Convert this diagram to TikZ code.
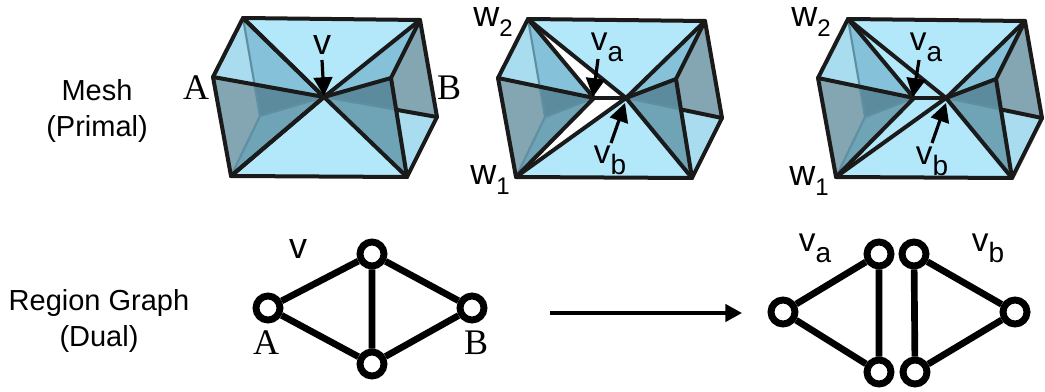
\documentclass[tikz,border=0pt]{standalone}
\usepackage{fontspec}
\setmainfont{Liberation Sans}
\newfontfamily\serifA{Liberation Serif}
\usetikzlibrary{arrows.meta}
\definecolor{faceTop}{HTML}{B3E8FB}
\definecolor{faceLight}{HTML}{A9DCEE}
\definecolor{faceMid}{HTML}{85C1D8}
\definecolor{faceGray}{HTML}{84A6B2}
\definecolor{faceDark}{HTML}{5D8B9E}
\definecolor{faceDeep}{HTML}{6FA3B6}
\definecolor{edgeBlack}{HTML}{1A1A1A}
\definecolor{backLine}{HTML}{5F8FA2}
\tikzset{
  meshedge/.style={draw=edgeBlack,line width=3pt,line join=round,line cap=round},
  backedge/.style={draw=backLine,line width=1.6pt},
  callout/.style={draw=black,line width=2.4pt,-{Triangle[length=14pt,width=14pt]}},
  flow/.style={draw=black,line width=2.6pt,-{Triangle[length=12.5pt,width=13pt]}},
  gnode/.style={circle,draw=black,line width=5.2pt,fill=white,minimum size=18pt,inner sep=0pt},
  gedge/.style={draw=black,line width=5pt},
  caption/.style={align=center,font=\fontsize{21.75}{27.5}\selectfont,inner sep=0pt},
  sym/.style={inner sep=0pt},
  serifsym/.style={inner sep=0pt,font=\serifA\fontsize{27}{27}\selectfont},
}
\newcommand{\subsym}[2]{\fontsize{25}{25}\selectfont #1\raisebox{-.32em}{\fontsize{21}{21}\selectfont #2}}
\newcommand{\wsym}[1]{\fontsize{27}{27}\selectfont w\raisebox{-.3em}{\fontsize{18}{18}\selectfont #1}}
% dx, dy, shift of va, shift of vb, colour of the gap
\newcommand{\meshpart}[5]{%
\begin{scope}[shift={(#1,#2)}]
  \coordinate (TL) at (243,18); \coordinate (TR) at (420,20);
  \coordinate (A) at (213,77);  \coordinate (R) at (437,117);
  \coordinate (BL) at (231,176);\coordinate (BR) at (407,177);
  \coordinate (P) at (260,116); \coordinate (C) at (391,78);
  \coordinate (va) at (324+#3,97); \coordinate (vb) at (324+#4,97);
  \coordinate (Q) at (intersection cs: first line={(TL)--(P)}, second line={(A)--(va)});
  \coordinate (D) at (intersection cs: first line={(C)--(BR)}, second line={(vb)--(R)});
  \fill[faceTop] (TL)--(TR)--(vb)--(BR)--(BL)--(va)--cycle;
  \fill[#5] (TL)--(va)--(BL)--(vb)--cycle;
  \fill[faceLight] (TL)--(A)--(Q)--cycle;
  \fill[faceMid] (TL)--(Q)--(va)--cycle;
  \fill[faceGray] (A)--(Q)--(P)--(BL)--cycle;
  \fill[faceDark] (Q)--(va)--(P)--cycle;
  \fill[faceDeep] (P)--(va)--(BL)--cycle;
  \fill[faceMid] (TR)--(C)--(vb)--cycle;
  \fill[faceDark] (C)--(vb)--(D)--cycle;
  \fill[faceDeep] (vb)--(D)--(BR)--cycle;
  \fill[faceGray] (TR)--(R)--(D)--(C)--cycle;
  \fill[faceLight] (R)--(BR)--(D)--cycle;
  \draw[backedge] (TL)--(P)--(BL) (P)--(va) (vb)--(D);
  \draw[meshedge] (TL)--(TR)--(R)--(BR)--(BL)--(A)--cycle;
  \draw[meshedge] (A)--(va)--(TL) (va)--(BL);
  \draw[meshedge] (TL)--(vb)--(TR) (BL)--(vb)--(BR);
  \draw[meshedge] (TR)--(C)--(vb) (C)--(BR) (D)--(R);
  \draw[meshedge] (va)--(vb);
\end{scope}}
\begin{document}
\begin{tikzpicture}[x=.75pt,y=-.75pt]
\useasboundingbox (0,0) rectangle (1045,392);
\meshpart{0}{0}{0}{0}{faceTop}
\meshpart{285}{1}{-15}{17}{white}
\meshpart{605}{1}{-15}{17}{faceTop}

% captions
\node[caption] (cap1) at (97,111) {Mesh\\(Primal)};
\node[caption] (cap2) at (99,321) {Region Graph\\(Dual)};

% labels on the first mesh
\node[sym,font=\fontsize{27}{27}\selectfont] (v1) at (322,45) {v};
\node[serifsym] (A1) at (196,88) {A};
\node[serifsym] (B1) at (449,88) {B};
\coordinate (v1s) at (322,60); \coordinate (v1e) at (324,96);
\draw[callout] (v1s)--(v1e);

% labels on the second mesh
\node[sym] (w22) at (493,22) {\wsym{2}};
\node[sym] (w21) at (490,180) {\wsym{1}};
\node[sym] (va2) at (607,47) {\subsym{v}{a}};
\node[sym] (vb2) at (610,160) {\subsym{v}{b}};
\coordinate (a2s) at (598,59); \coordinate (a2e) at (593,97);
\coordinate (b2s) at (611,143); \coordinate (b2e) at (625,103);
\draw[callout] (a2s)--(a2e);
\draw[callout] (b2s)--(b2e);

% labels on the third mesh
\node[sym] (w32) at (811,22) {\wsym{2}};
\node[sym] (w31) at (809,181) {\wsym{1}};
\node[sym] (va3) at (926,47) {\subsym{v}{a}};
\node[sym] (vb3) at (932,161) {\subsym{v}{b}};
\coordinate (a3s) at (919,60); \coordinate (a3e) at (913,97);
\coordinate (b3s) at (932,143); \coordinate (b3e) at (946,103);
\draw[callout] (a3s)--(a3e);
\draw[callout] (b3s)--(b3e);

% region graph
\node[gnode] (ga) at (268,308) {};
\node[gnode] (gt) at (372,254) {};
\node[gnode] (gb) at (372,364) {};
\node[gnode] (gr) at (472,308) {};
\draw[gedge] (ga)--(gt) (ga)--(gb) (gt)--(gb) (gt)--(gr) (gb)--(gr);
\node[sym,font=\fontsize{27}{27}\selectfont] (gv) at (298,249) {v};
\node[serifsym] (gA) at (266,343) {A};
\node[serifsym] (gB) at (476,343) {B};

% arrow
\coordinate (fs) at (550,313); \coordinate (fe) at (742,313);
\draw[flow] (fs)--(fe);

% split graph
\node[gnode] (ha) at (783,312) {};
\node[gnode] (hta) at (879,254) {};
\node[gnode] (hba) at (879,372) {};
\node[gnode] (htb) at (914,254) {};
\node[gnode] (hbb) at (915,372) {};
\node[gnode] (hr) at (1015,312) {};
\draw[gedge] (ha)--(hta) (ha)--(hba) (hta)--(hba);
\draw[gedge] (hr)--(htb) (hr)--(hbb) (htb)--(hbb);
\node[sym] (hva) at (815,248) {\subsym{v}{a}};
\node[sym] (hvb) at (988,248) {\subsym{v}{b}};
\end{tikzpicture}
\end{document}
